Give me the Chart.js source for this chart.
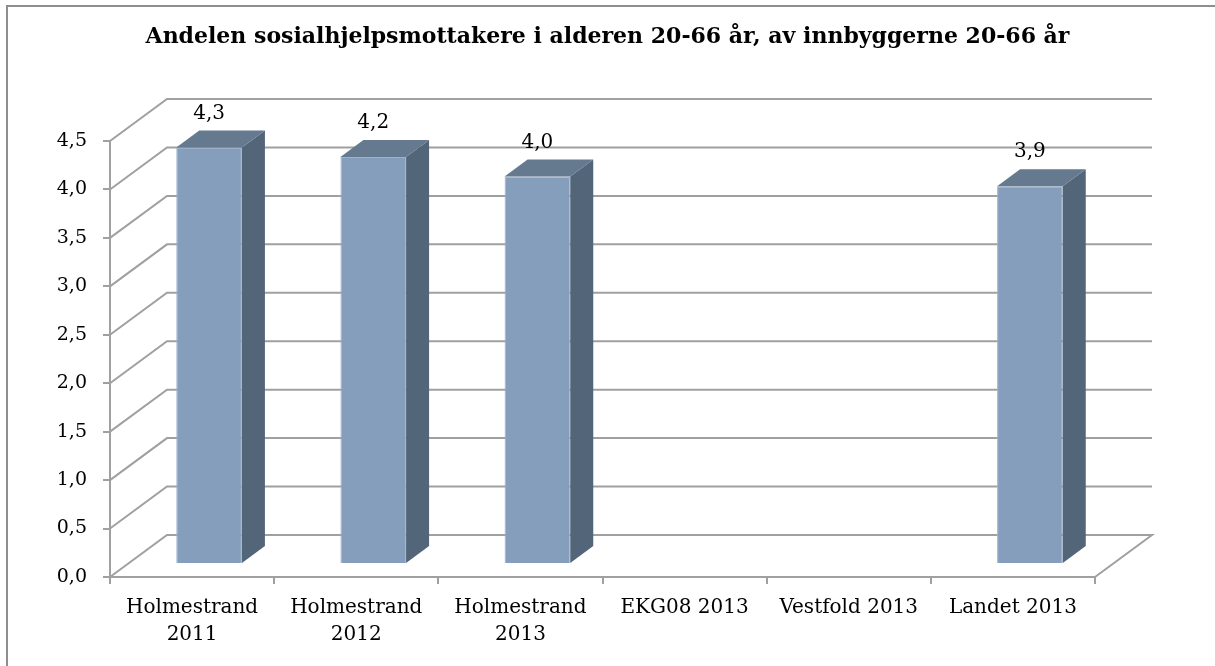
<!DOCTYPE html>
<html>
<head>
<meta charset="utf-8">
<script src="https://cdn.jsdelivr.net/npm/chart.js@4.4.0/dist/chart.umd.min.js"></script>
<style>
  html, body { margin: 0; padding: 0; background: #fff; }
  #wrap { position: relative; width: 1215px; height: 666px; }
</style>
</head>
<body>
<div id="wrap"><canvas id="chart" width="1215" height="666"></canvas></div>
<script>
const categories = [
    ["Holmestrand", "2011"],
    ["Holmestrand", "2012"],
    ["Holmestrand", "2013"],
    "EKG08 2013",
    "Vestfold 2013",
    "Landet 2013"
];
const values = [4.3, 4.2, 4.0, null, null, 3.9];
const yTicks = [0, 0.5, 1, 1.5, 2, 2.5, 3, 3.5, 4, 4.5];
const titleText = "Andelen sosialhjelpsmottakere i alderen 20-66 år, av innbyggerne 20-66 år";

// 3D look
const wallDx = 57, wallDy = -42;     // back wall offset
const barDx = 17, barDy = -13;       // bar front face offset
const depthDx = 23, depthDy = -17;   // bar depth
const gridColor = "#a0a0a0";
const fontFamily = "'DejaVu Serif', 'Liberation Serif', serif";

function fmt(v) {
    return v.toFixed(1).replace(".", ",");
}

const threeD = {
    id: "threeD",
    beforeDraw(chart) {
        const ctx = chart.ctx;
        ctx.save();
        ctx.strokeStyle = "#8e8e8e";
        ctx.lineWidth = 2;
        ctx.beginPath();
        ctx.moveTo(7, chart.height);
        ctx.lineTo(7, 6);
        ctx.lineTo(chart.width, 6);
        ctx.stroke();
        // title
        ctx.fillStyle = "#000";
        ctx.font = "bold 22px " + fontFamily;
        ctx.textAlign = "center";
        ctx.textBaseline = "middle";
        ctx.fillText(titleText, chart.width / 2, 37);
        ctx.restore();
    },
    beforeDatasetsDraw(chart) {
        const ctx = chart.ctx;
        const a = chart.chartArea;
        const y = chart.scales.y;
        ctx.save();
        ctx.strokeStyle = gridColor;
        ctx.lineWidth = 2;
        yTicks.forEach(function (v) {
            const py = y.getPixelForValue(v);
            ctx.beginPath();
            ctx.moveTo(a.left, py);
            ctx.lineTo(a.left + wallDx, py + wallDy);
            ctx.lineTo(a.right + wallDx, py + wallDy);
            if (v === 0) ctx.lineTo(a.right, py);
            ctx.stroke();
        });
        ctx.restore();
        // front faces drawn by chart.js, moved into depth
        ctx.save();
        ctx.translate(barDx, barDy);
    },
    afterDatasetsDraw(chart) {
        const ctx = chart.ctx;
        ctx.restore();
        const meta = chart.getDatasetMeta(0);
        ctx.save();
        meta.data.forEach(function (bar, i) {
            if (values[i] === null) return;
            const l = bar.x - bar.width / 2 + barDx;
            const r = bar.x + bar.width / 2 + barDx;
            const t = bar.y + barDy;
            const b = bar.base + barDy;
            ctx.fillStyle = "#536579";
            ctx.beginPath();
            ctx.moveTo(r, t);
            ctx.lineTo(r + depthDx, t + depthDy);
            ctx.lineTo(r + depthDx, b + depthDy);
            ctx.lineTo(r, b);
            ctx.closePath();
            ctx.fill();
            ctx.fillStyle = "#65798f";
            ctx.beginPath();
            ctx.moveTo(l, t);
            ctx.lineTo(l + depthDx, t + depthDy);
            ctx.lineTo(r + depthDx, t + depthDy);
            ctx.lineTo(r, t);
            ctx.closePath();
            ctx.fill();

            ctx.fillStyle = "#000";
            ctx.font = "20px " + fontFamily;
            ctx.textAlign = "center";
            ctx.textBaseline = "middle";
            ctx.fillText(fmt(values[i]), bar.x + barDx, t - 34);
        });
        ctx.restore();
    }
};

new Chart(document.getElementById("chart"), {
    type: "bar",
    data: {
        labels: categories,
        datasets: [{
            data: values,
            backgroundColor: "#849ebc",
            borderColor: "#9fb4cc",
            borderWidth: 1,
            barPercentage: 0.4,
            categoryPercentage: 1,
            clip: false
        }]
    },
    options: {
        responsive: false,
        animation: false,
        layout: { padding: { left: 0, right: 120, top: 141, bottom: 0 } },
        plugins: {
            legend: { display: false },
            tooltip: { enabled: false },
            title: { display: false }
        },
        scales: {
            x: {
                grid: { offset: true, drawOnChartArea: false, drawTicks: true, tickLength: 7, color: gridColor, lineWidth: 2 },
                border: { display: true, color: gridColor, width: 2 },
                ticks: { color: "#000", padding: 10, font: { family: fontFamily, size: 20, lineHeight: 1.35 } },
                afterFit(s) { s.height = 89; }
            },
            y: {
                min: 0,
                max: 4.5,
                afterBuildTicks(s) { s.ticks = yTicks.map(function (v) { return { value: v }; }); },
                grid: { drawOnChartArea: false, drawTicks: true, tickLength: 7, color: gridColor, lineWidth: 2 },
                border: { display: true, color: gridColor, width: 2 },
                ticks: { color: "#000", padding: 16, font: { family: fontFamily, size: 19 }, callback: function (v) { return fmt(v); } },
                afterFit(s) { s.width = 110; }
            }
        }
    },
    plugins: [threeD]
});
</script>
</body>
</html>
